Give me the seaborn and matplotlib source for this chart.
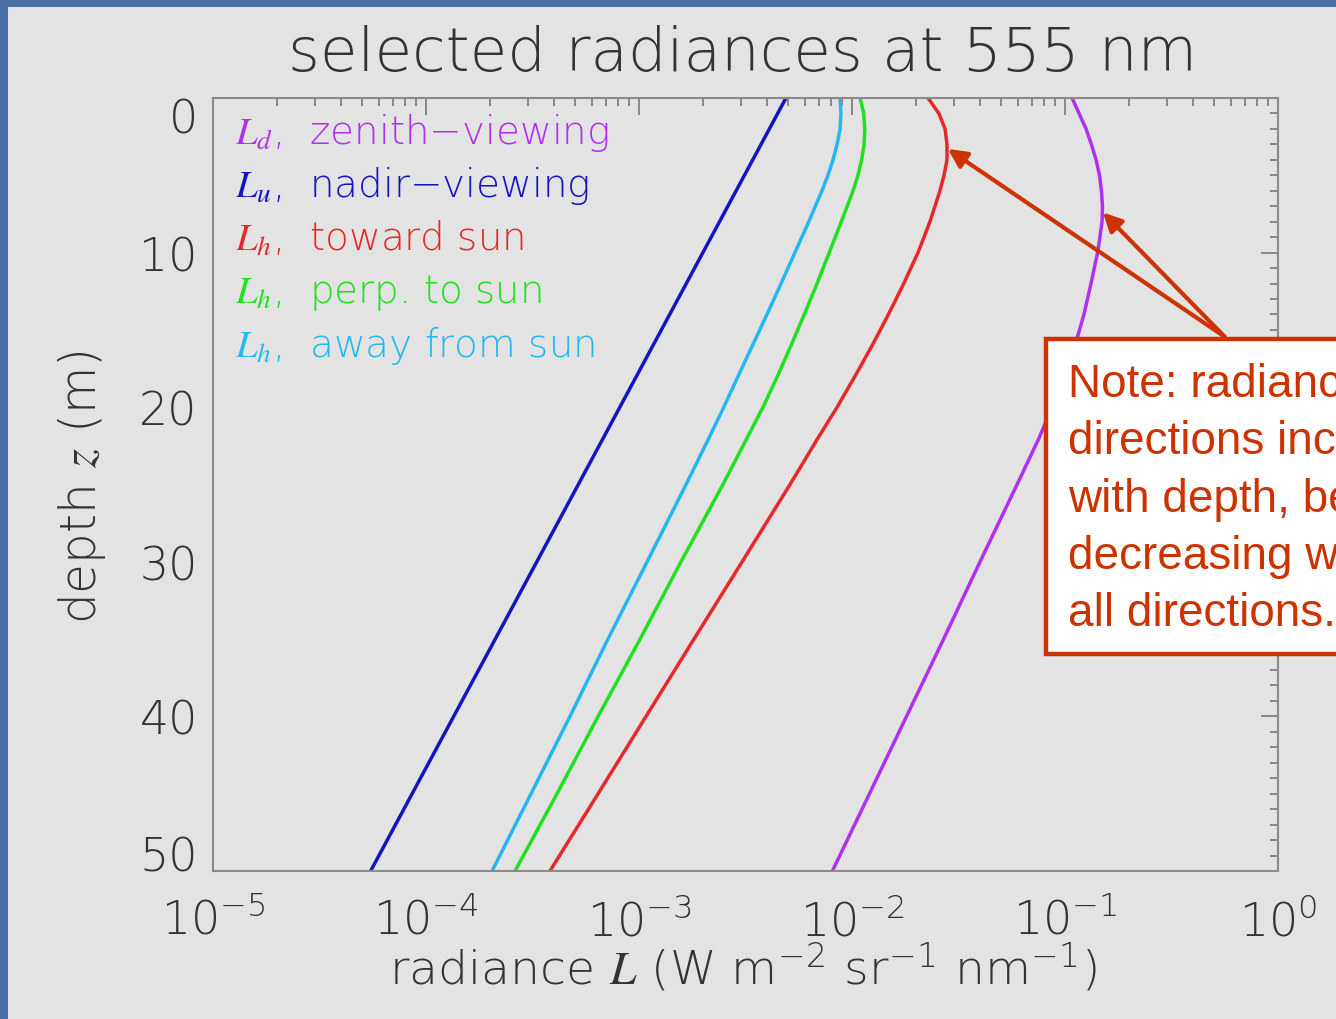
import numpy as np
import pandas as pd
import matplotlib
matplotlib.use("Agg")
import matplotlib.pyplot as plt
import seaborn as sns
from matplotlib.patches import Rectangle
from matplotlib.ticker import LogLocator, MultipleLocator, NullFormatter

# radiance profiles at 555 nm:
# depth in m, log10 of radiance L (W m^-2 sr^-1 nm^-1)
depth_zenith = [0, 1, 2, 3, 4, 5, 6, 7, 8, 9, 10, 12, 14, 16, 18, 20, 22, 25, 30, 35, 40, 45, 50]
logL_zenith = [-0.967, -0.934, -0.901, -0.876, -0.854, -0.838, -0.829, -0.824, -0.826, -0.836,
               -0.847, -0.878, -0.911, -0.953, -1.005, -1.061, -1.122, -1.225, -1.399, -1.570,
               -1.744, -1.918, -2.092]

depth_nadir = [0, 10, 20, 30, 40, 50]
logL_nadir = [-2.31, -2.70, -3.09, -3.48, -3.87, -4.26]

depth_toward = [0, 1, 2, 3, 4, 5, 6, 8, 10, 12, 14, 16, 18, 20, 22, 25, 30, 35, 40, 45, 50]
logL_toward = [-1.643, -1.592, -1.563, -1.554, -1.554, -1.568, -1.587, -1.634, -1.690, -1.757,
               -1.829, -1.905, -1.986, -2.070, -2.160, -2.291, -2.516, -2.742, -2.967, -3.192,
               -3.418]

depth_perp = [0, 1, 2, 3, 4, 5, 6, 8, 10, 12, 14, 16, 18, 20, 22, 25, 30, 35, 40, 45, 50]
logL_perp = [-1.962, -1.945, -1.940, -1.943, -1.955, -1.972, -1.995, -2.050, -2.107, -2.164,
             -2.224, -2.286, -2.350, -2.418, -2.493, -2.606, -2.803, -2.995, -3.192, -3.385,
             -3.582]

depth_away = [0, 1, 2, 3, 4, 5, 6, 8, 10, 12, 14, 16, 18, 20, 22, 25, 30, 35, 40, 45, 50]
logL_away = [-2.056, -2.052, -2.056, -2.070, -2.089, -2.113, -2.141, -2.203, -2.268, -2.333,
             -2.399, -2.467, -2.535, -2.602, -2.672, -2.779, -2.962, -3.146, -3.324, -3.507,
             -3.690]

series_names = ["zenith", "nadir", "toward", "perp", "away"]
legend_labels = [r"$L_d$,  zenith−viewing", r"$L_u$,  nadir−viewing", r"$L_h$,  toward sun",
                 r"$L_h$,  perp. to sun", r"$L_h$,  away from sun"]
colors = ["#b030f0", "#1515c0", "#e82828", "#20e020", "#25b8f0"]
depth_ticks = [0, 10, 20, 30, 40, 50]

# points the arrows aim at (radiance, depth)
arrow_targets = [(0.0282, 3.3), (0.1507, 7.4)]

note_lines = ["Note: radiances in some", "directions increase", "with depth, before",
              "decreasing with depth in", "all directions."]

df = pd.concat([
    pd.DataFrame({"depth": d, "radiance": 10.0 ** np.array(lg), "series": n})
    for n, d, lg in zip(series_names,
                        [depth_zenith, depth_nadir, depth_toward, depth_perp, depth_away],
                        [logL_zenith, logL_nadir, logL_toward, logL_perp, logL_away])
])

sns.set_theme(style="white")
plt.rcParams['font.family'] = ['DejaVu Sans']
plt.rcParams['font.weight'] = 'light'
plt.rcParams['mathtext.fontset'] = 'stix'

W, H = 1336, 1020
fx = lambda x: x / W
fy = lambda y: 1 - y / H

panel = '#e3e3e3'
txt = '#333333'
fig = plt.figure(figsize=(W / 100, H / 100), dpi=100, facecolor='#4a6fa5')
fig.add_artist(Rectangle((fx(8), 0), 1, fy(8), transform=fig.transFigure,
                         facecolor=panel, edgecolor='none', zorder=-1))

ax = fig.add_axes([fx(213), fy(872), fx(1278) - fx(213), fy(99) - fy(872)])
ax.set_facecolor(panel)

sns.lineplot(data=df, x="radiance", y="depth", hue="series", hue_order=series_names,
             palette=dict(zip(series_names, colors)), estimator=None, sort=False,
             legend=False, lw=2.5, ax=ax)

ax.set_xscale('log')
ax.set_xlim(1e-5, 1)
ax.set_ylim(50, 0)
ax.set_xlabel('')
ax.set_ylabel('')
ax.xaxis.set_major_locator(LogLocator(base=10, numticks=10))
ax.xaxis.set_minor_locator(LogLocator(base=10, subs=np.arange(2, 10), numticks=20))
ax.xaxis.set_minor_formatter(NullFormatter())
ax.set_yticks(depth_ticks)
ax.yaxis.set_minor_locator(MultipleLocator(1))

for s in ax.spines.values():
    s.set_color('#8a8a8a')
    s.set_linewidth(1.5)
ax.tick_params(which='both', direction='in', top=True, right=True, color='#808080',
               labelcolor=txt, width=1.3)
ax.tick_params(which='major', length=12, labelsize=33)
ax.tick_params(which='minor', length=6)
ax.tick_params(axis='x', which='major', pad=19)
ax.tick_params(axis='y', which='major', pad=11)

yt = ax.yaxis.get_major_ticks()
yt[0].label1.set_verticalalignment('top')
yt[-1].label1.set_verticalalignment('baseline')

fig.text(fx(743), fy(55), 'selected radiances at 555 nm', ha='center', va='center',
         fontsize=44, color=txt)
fig.text(fx(743), fy(968),
         r'radiance $L$ (W m$^{\mathdefault{-2}}$ sr$^{\mathdefault{-1}}$ nm$^{\mathdefault{-1}}$)',
         ha='center', va='center', fontsize=34, color=txt)
fig.text(fx(82), fy(487), r'depth $z$ (m)', ha='center', va='center', rotation=90,
         fontsize=35, color=txt)

for i, (lab, c) in enumerate(zip(legend_labels, colors)):
    fig.text(fx(235), fy(133 + 53.3 * i), lab, ha='left', va='center', fontsize=28, color=c)

# note box and arrows
fig.add_artist(Rectangle((fx(1046), fy(655)), fx(400), fy(340) - fy(655),
                         transform=fig.transFigure, facecolor='white',
                         edgecolor='#cc3300', lw=3.2, zorder=5))
for i, line in enumerate(note_lines):
    fig.text(fx(1068), fy(397 + 57.3 * i), line, ha='left', va='baseline',
             fontsize=33, family='Liberation Sans', weight='normal', color='#cc3300', zorder=6)

for tx, tz in arrow_targets:
    ax.annotate('', xy=(tx, tz), xycoords='data', xytext=(fx(1225), fy(338)),
                textcoords='figure fraction', annotation_clip=False,
                arrowprops=dict(arrowstyle='-|>', color='#cc3300', lw=3,
                                mutation_scale=28, shrinkA=0, shrinkB=0))

fig.savefig('out.png', dpi=100, facecolor=fig.get_facecolor())
